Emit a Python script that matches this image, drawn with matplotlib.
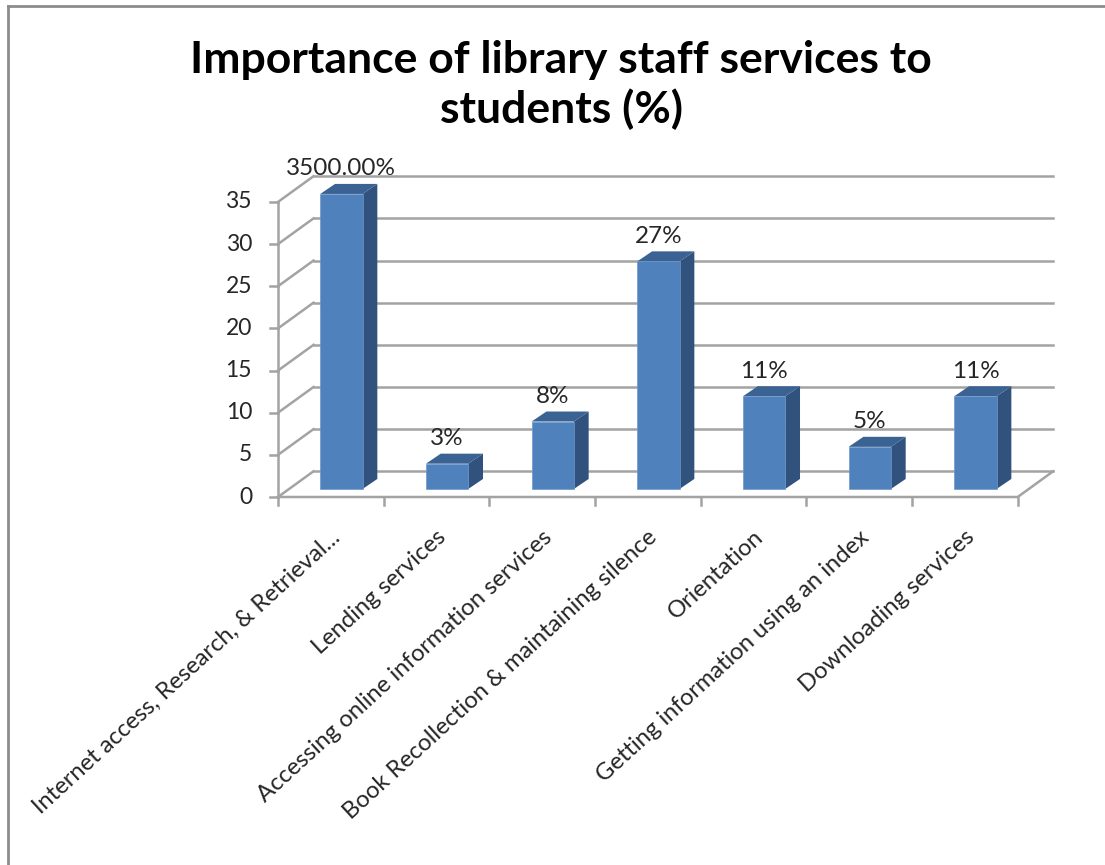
"""Importance of library staff services, drawn as a pseudo 3D column chart"""
import matplotlib
matplotlib.use('Agg')
from matplotlib import pyplot as plt
from matplotlib.patches import Polygon
from matplotlib.lines import Line2D

categories = ['Internet access, Research, & Retrieval...', 'Lending services',
              'Accessing online information services',
              'Book Recollection & maintaining silence', 'Orientation',
              'Getting information using an index', 'Downloading services']
values = [35, 3, 8, 27, 11, 5, 11]
value_labels = ['3500.00%', '3%', '8%', '27%', '11%', '5%', '11%']
y_ticks = [0, 5, 10, 15, 20, 25, 30, 35]
title = 'Importance of library staff services to\nstudents (%)'

W, H = 1105, 865
X0, Y0 = 278, 497    # pixel position of the chart origin
X_UNIT, Y_UNIT = 105.67, 8.43    # pixels per category, pixels per value unit
WALL_DX, WALL_DY = 0.336, 3.05    # floor depth in data units
BAR_DX, BAR_DY = 0.14, 1.19    # column depth in data units
BAR_LIFT = 0.95    # columns stand a little in from the floor edge
BAR_WIDTH = 0.40
GREY = '#a3a3a3'
TEXT = '#262626'
FONT = 'Lato'

fig = plt.figure(figsize=(W / 100, H / 100), dpi=100)
ax = fig.add_axes([0, 0, 1, 1])
ax.set_xlim(-X0 / X_UNIT, (W - X0) / X_UNIT)
ax.set_ylim(-(H - Y0) / Y_UNIT, Y0 / Y_UNIT)
ax.axis('off')

n = len(categories)

# back wall gridlines and their returns along the side wall
for v in y_ticks:
    ax.plot([WALL_DX, n + WALL_DX], [v + WALL_DY, v + WALL_DY], color=GREY, lw=1.8, zorder=1)
    ax.plot([0, WALL_DX], [v, v + WALL_DY], color=GREY, lw=1.8, zorder=1)
    ax.plot([-8 / X_UNIT, 0], [v, v], color=GREY, lw=1.8, zorder=1)
    ax.text(-26 / X_UNIT, v, str(v), ha='right', va='center', fontsize=16.5, family=FONT, color=TEXT)

# floor edges and axis lines
ax.plot([0, 0], [0, y_ticks[-1]], color=GREY, lw=1.8, zorder=1)
ax.plot([0, n, n + WALL_DX], [0, 0, WALL_DY], color=GREY, lw=1.8, zorder=1)
for i in range(n + 1):
    ax.plot([i, i], [0, -8 / Y_UNIT], color=GREY, lw=1.8, zorder=1)

# columns: front face, side face, top face
for i, v in enumerate(values):
    left = i + 0.6 - BAR_WIDTH / 2
    right = left + BAR_WIDTH
    base = BAR_LIFT
    top = base + v
    ax.add_patch(Polygon([(right, base), (right + BAR_DX, base + BAR_DY), (right + BAR_DX, top + BAR_DY), (right, top)],
                         facecolor='#31527c', edgecolor='none', zorder=3))
    ax.add_patch(Polygon([(left, top), (right, top), (right + BAR_DX, top + BAR_DY), (left + BAR_DX, top + BAR_DY)],
                         facecolor='#3a6292', edgecolor='none', zorder=3))
    ax.bar(left + BAR_WIDTH / 2, v, width=BAR_WIDTH, bottom=base, color='#4f81bd', edgecolor='#6f97c9', lw=0.5, zorder=4)
    ax.text(i + 0.6, top + BAR_DY + 15 / Y_UNIT, value_labels[i], ha='center', va='center',
            fontsize=17.5, family=FONT, color=TEXT, zorder=5)

# slanted category labels
for i, name in enumerate(categories):
    ax.text(i + 0.56, -37 / Y_UNIT, name, rotation=42.5, rotation_mode='anchor', ha='right', va='center',
            fontsize=17.1, family=FONT, color=TEXT)

fig.text(561 / W, 1 - 85 / H, title, ha='center', va='center', fontsize=32, fontweight='bold',
         family=FONT, color='black', linespacing=1.26)

# chart area border, only the top and left edges are in frame
fig.add_artist(Line2D([8 / W, 8 / W], [0, 1 - 6 / H], color='#8c8c8c', lw=2))
fig.add_artist(Line2D([8 / W, 1], [1 - 6 / H, 1 - 6 / H], color='#8c8c8c', lw=2))

fig.savefig('out.png', dpi=100)
